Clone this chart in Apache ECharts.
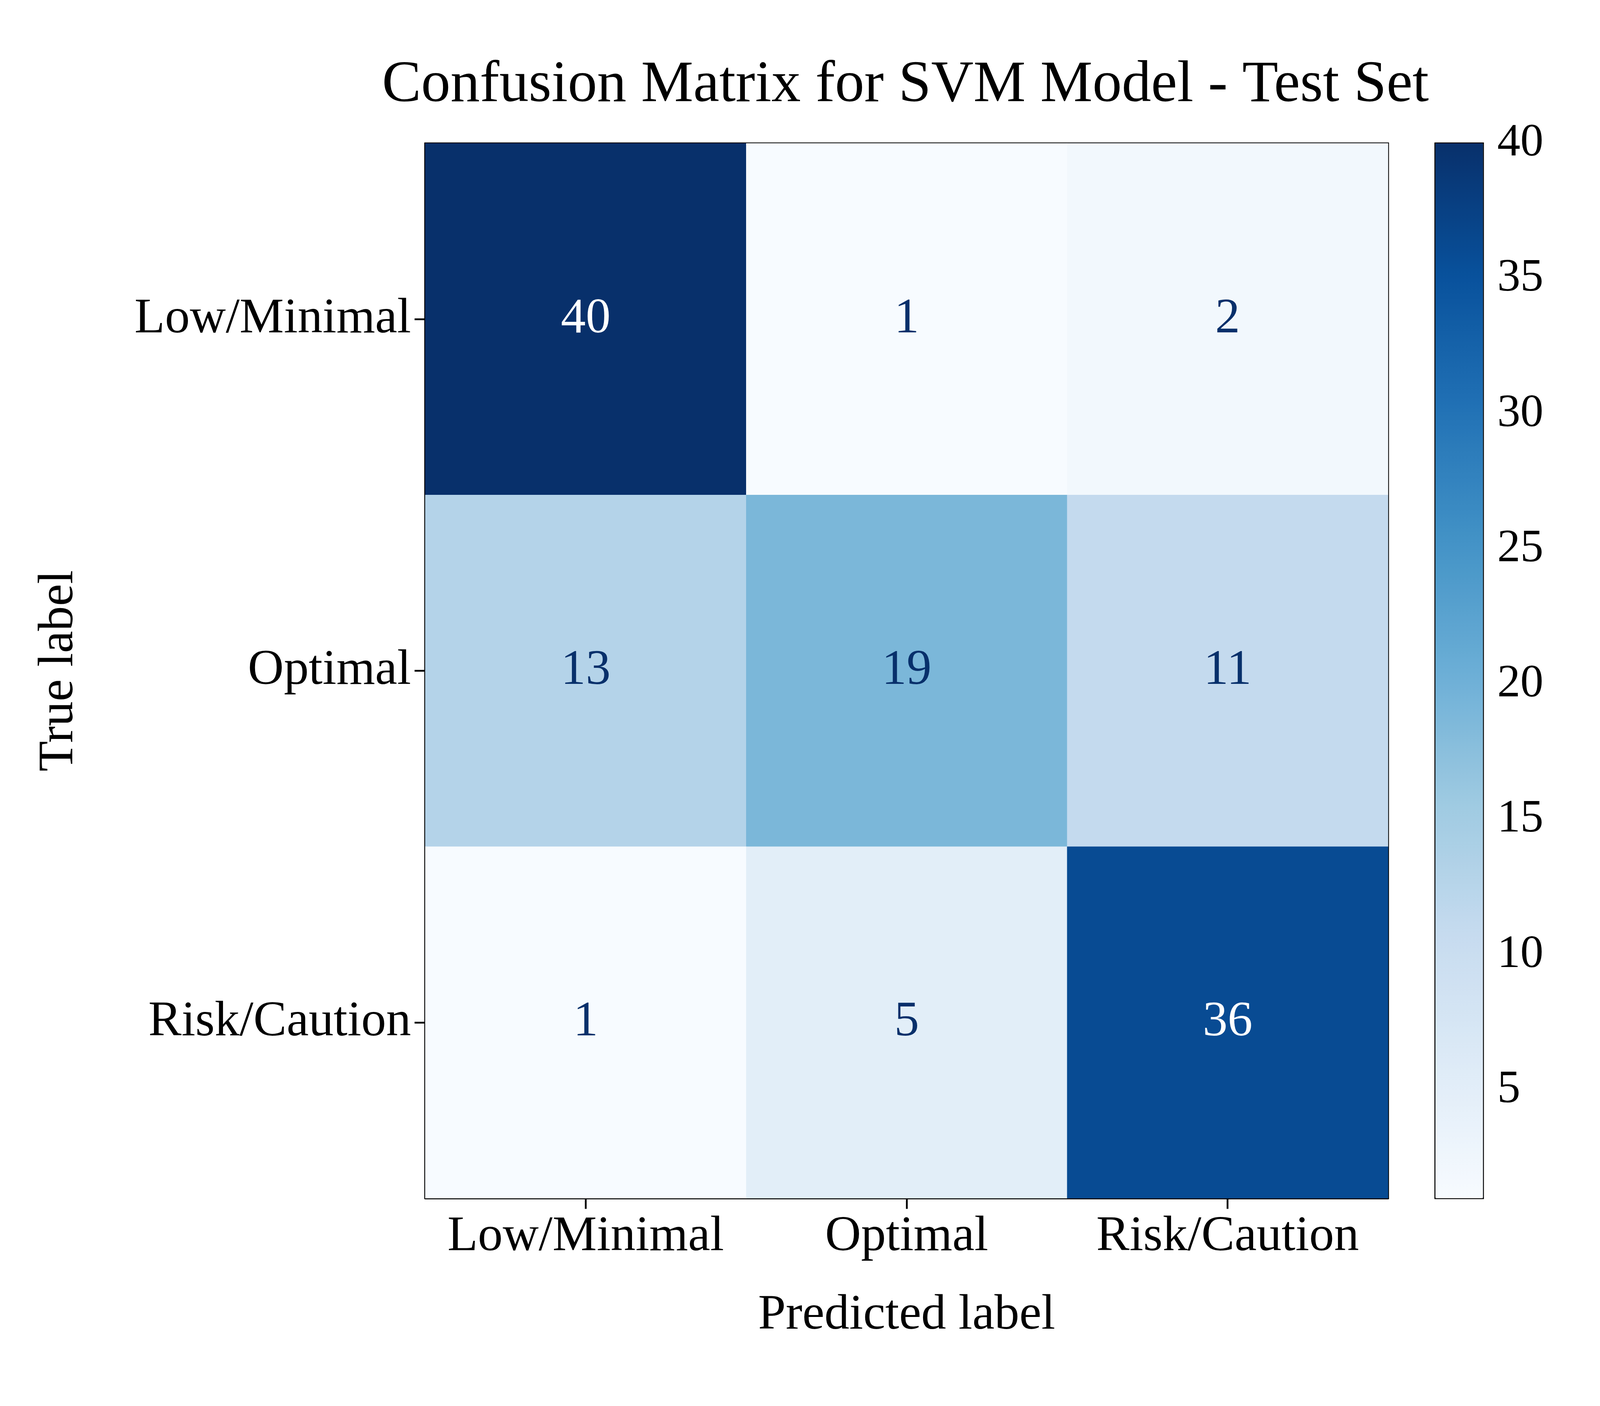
<!DOCTYPE html>
<html>
<head>
<meta charset="UTF-8">
<script src="https://cdn.jsdelivr.net/npm/echarts@6/dist/echarts.min.js"></script>
<style>html,body{margin:0;padding:0;overflow:hidden;background:#fff}</style>
</head>
<body>
<div id="main" style="width:100vw;height:100vh;"></div>
<script>
var labels = ['Low/Minimal', 'Optimal', 'Risk/Caution'];
var matrix = [
  [40, 1, 2],
  [13, 19, 11],
  [1, 5, 36]
];
var colorbarTicks = [5, 10, 15, 20, 25, 30, 35, 40];
var blues = ['#f7fbff', '#deebf7', '#c6dbef', '#9ecae1', '#6baed6', '#4292c6', '#2171b5', '#08519c', '#08306b'];

// [x, y, value] cells
var cells = [];
matrix.forEach(function (row, i) {
  row.forEach(function (v, j) { cells.push({ value: [j, i, v], label: { color: v > 20 ? '#ffffff' : '#08306b' } }); });
});

var font = 'Liberation Serif';
var chart = echarts.init(document.getElementById('main'));
var W = chart.getWidth(), H = chart.getHeight();
var s = W / 4500, t = H / 3600;
var gx = 1196 * s, gy = 367 * t, gw = 2708 * s, gh = 2701 * t;
var cx = 4037 * s, cw = 134 * s;
var fs = 140 * s;

function ticks() {
  return { show: true, alignWithLabel: true, length: 30 * s, lineStyle: { color: '#000', width: 5 * s } };
}

chart.setOption({
  backgroundColor: '#fff',
  animation: false,
  textStyle: { fontFamily: font, color: '#000' },
  title: {
    text: 'Confusion Matrix for SVM Model - Test Set',
    left: 2541 * s, top: 140 * t, textAlign: 'center',
    textStyle: { fontFamily: font, fontSize: 165 * s, fontWeight: 'normal', color: '#000' }
  },
  grid: [
    { left: gx, top: gy, width: gw, height: gh, show: true, borderColor: '#000', borderWidth: 5 * s, backgroundColor: 'transparent' },
    { left: cx, top: gy, width: cw, height: gh, show: true, borderColor: '#000', borderWidth: 5 * s, backgroundColor: 'transparent' }
  ],
  xAxis: [
    {
      type: 'category', data: labels, gridIndex: 0,
      name: 'Predicted label', nameLocation: 'middle', nameGap: 260 * s,
      nameTextStyle: { fontSize: fs, fontFamily: font, color: '#000' },
      axisLine: { show: true, lineStyle: { color: '#000', width: 5 * s } },
      axisTick: ticks(),
      axisLabel: { interval: 0, fontSize: fs, fontFamily: font, color: '#000', margin: 40 * s },
      splitLine: { show: false }
    },
    { type: 'value', gridIndex: 1, show: false, min: 0, max: 1 }
  ],
  yAxis: [
    {
      type: 'category', data: labels, gridIndex: 0, inverse: true,
      name: 'True label', nameLocation: 'middle', nameGap: 960 * s, nameRotate: 90,
      nameTextStyle: { fontSize: fs, fontFamily: font, color: '#000' },
      axisLine: { show: true, lineStyle: { color: '#000', width: 5 * s } },
      axisTick: ticks(),
      axisLabel: { interval: 0, fontSize: fs, fontFamily: font, color: '#000', margin: 40 * s },
      splitLine: { show: false }
    },
    {
      type: 'value', gridIndex: 1, position: 'right', min: 1, max: 40,
      axisLine: { show: true, lineStyle: { color: '#000', width: 5 * s } },
      axisTick: { show: true, length: 30 * s, customValues: colorbarTicks, lineStyle: { color: '#000', width: 5 * s } },
      axisLabel: { fontSize: 130 * s, fontFamily: font, color: '#000', margin: 40 * s, customValues: colorbarTicks },
      splitLine: { show: false }
    }
  ],
  visualMap: {
    type: 'continuous', min: 1, max: 40, seriesIndex: 0,
    calculable: false, text: ['', ''], padding: 0,
    left: cx, top: gy, itemWidth: cw, itemHeight: gh,
    inRange: { color: blues }
  },
  series: [
    {
      type: 'heatmap', xAxisIndex: 0, yAxisIndex: 0, data: cells, z: 1,
      label: {
        show: true, fontSize: fs, fontFamily: font,
        formatter: function (p) { return p.value[2]; }
      },
      emphasis: { disabled: true }
    },
    { type: 'scatter', xAxisIndex: 1, yAxisIndex: 1, data: [] }
  ]
});
</script>
</body>
</html>
